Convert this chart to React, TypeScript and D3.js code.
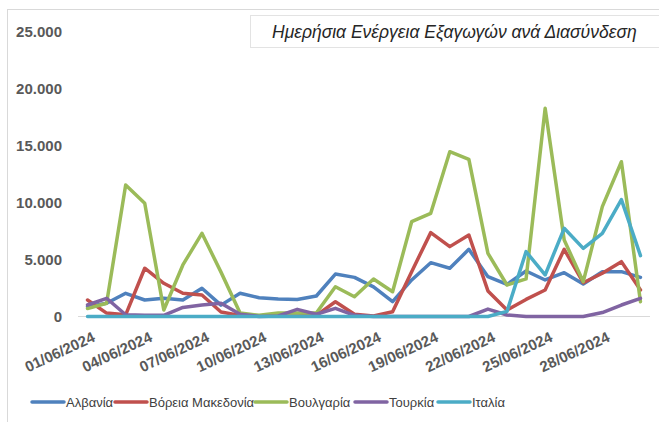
import React from "react";
import * as d3 from "d3";

const dates = [
  "01/06/2024","02/06/2024","03/06/2024","04/06/2024","05/06/2024","06/06/2024",
  "07/06/2024","08/06/2024","09/06/2024","10/06/2024","11/06/2024","12/06/2024",
  "13/06/2024","14/06/2024","15/06/2024","16/06/2024","17/06/2024","18/06/2024",
  "19/06/2024","20/06/2024","21/06/2024","22/06/2024","23/06/2024","24/06/2024",
  "25/06/2024","26/06/2024","27/06/2024","28/06/2024","29/06/2024","30/06/2024",
];
const tickDates = ["01/06/2024","04/06/2024","07/06/2024","10/06/2024","13/06/2024","16/06/2024","19/06/2024","22/06/2024","25/06/2024","28/06/2024"];
const yTicks = [0, 5000, 10000, 15000, 20000, 25000];

const albania = [860,1160,2040,1450,1600,1450,2480,1000,2040,1650,1540,1500,1800,3730,3440,2600,1300,3210,4730,4240,5900,3500,2820,4000,3210,3850,2850,3940,3940,3440];
const macedonia = [1450,300,150,4240,2920,2040,1890,400,100,50,50,50,100,1300,200,50,420,3940,7370,6140,7160,2250,570,1500,2330,5900,2970,3800,4820,2330];
const bulgaria = [700,1160,11560,9950,570,4530,7310,3900,300,100,300,300,300,2620,1740,3300,2180,8330,9070,14480,13810,5550,2770,3300,18290,6720,3060,9650,13600,1300];
const turkey = [1010,1600,150,100,100,800,1010,1160,200,0,50,630,200,720,100,0,0,0,0,0,0,650,130,0,0,0,0,350,1010,1600];
const italy = [0,0,0,0,0,0,0,0,0,0,0,0,0,0,0,0,0,0,0,0,0,0,450,5700,3650,7750,5990,7310,10270,5350];

const seriesNames = ["Αλβανία", "Βόρεια Μακεδονία", "Βουλγαρία", "Τουρκία", "Ιταλία"];
const seriesData = [albania, macedonia, bulgaria, turkey, italy];
const colors = ["#4F81BD", "#C0504D", "#9BBB59", "#8064A2", "#4BACC6"];
const title = "Ημερήσια Ενέργεια Εξαγωγών ανά Διασύνδεση";

const W = 659, H = 422;
const font = "'Liberation Sans', Arial, sans-serif";

export default function App() {
  const x = d3.scaleBand<string>().domain(dates).range([78, 650]).padding(0);
  const cx = (d: string) => (x(d) as number) + x.bandwidth() / 2;
  const y = d3.scaleLinear().domain([0, 25000]).range([316.5, 32]);
  const line = d3.line<number>()
    .x((_, i) => cx(dates[i]))
    .y((v) => y(v));

  const legendX = [32, 115, 255, 355, 438];

  return (
    <svg width={W} height={H} style={{ position: "absolute", left: 0, top: 0, background: "#fff" }}>
      <rect x={0} y={0} width={W} height={H} fill="#fff" />
      <rect x={7.5} y={9.5} width={W + 10} height={H + 10} fill="none" stroke="#d9d9d9" strokeWidth={1} />
      {/* title box */}
      <rect x={250.5} y={15.5} width={W} height={32} fill="#fff" stroke="#e3e3e3" strokeWidth={1} />
      <text x={272} y={37.5} fontFamily={font} fontStyle="italic" fontSize={17.5} fill="#262626">{title}</text>

      {/* y tick labels */}
      {yTicks.map((t) => (
        <text key={t} x={62} y={y(t)} dy="0.35em" textAnchor="end" fontFamily={font} fontWeight="bold" fontSize={15} fill="#595959">
          {d3.format(",")(t).replace(/,/g, ".")}
        </text>
      ))}

      {/* x axis line */}
      <line x1={78} x2={650} y1={y(0)} y2={y(0)} stroke="#d9d9d9" strokeWidth={1} />

      {/* x tick labels */}
      {tickDates.map((d) => (
        <text key={d} transform={`translate(${cx(d) + 4},${331}) rotate(-25)`} textAnchor="end" dy="0.71em"
          fontFamily={font} fontWeight="bold" fontSize={15} fill="#595959">{d}</text>
      ))}

      {/* lines */}
      {seriesData.map((s, k) => (
        <path key={k} d={line(s) || ""} fill="none" stroke={colors[k]} strokeWidth={3.5} strokeLinejoin="round" strokeLinecap="round" />
      ))}

      {/* legend */}
      {seriesNames.map((n, k) => (
        <g key={n} transform={`translate(${legendX[k]},402)`}>
          <line x1={0} x2={32} y1={0} y2={0} stroke={colors[k]} strokeWidth={3.5} strokeLinecap="round" />
          <text x={34} y={0} dy="0.35em" fontFamily={font} fontSize={13} fill="#404040">{n}</text>
        </g>
      ))}
    </svg>
  );
}
